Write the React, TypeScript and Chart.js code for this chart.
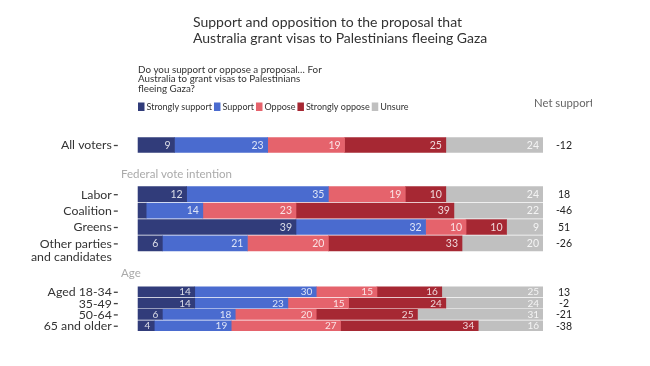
import React, { useEffect, useRef } from "react";
import { Chart, registerables } from "chart.js";

Chart.register(...registerables);

// ---- data ----
const ROW_LABELS = ["All voters", "Labor", "Coalition", "Greens", "Other parties", "Aged 18-34", "35-49", "50-64", "65 and older"];
const ROW_LABEL_EXTRA = ["", "", "", "", "and candidates", "", "", "", ""];
const ROW_POS = [0, 3, 4, 5, 6, 8.95, 9.64, 10.33, 11.02];
const ROW_GROUP = ["main", "main", "main", "main", "main", "age", "age", "age", "age"];

const SERIES = ["Strongly support", "Support", "Oppose", "Strongly oppose", "Unsure"];
const STRONGLY_SUPPORT = [9, 12, 2, 39, 6, 14, 14, 6, 4];
const SUPPORT = [23, 35, 14, 32, 21, 30, 23, 18, 19];
const OPPOSE = [19, 19, 23, 10, 20, 15, 15, 20, 27];
const STRONGLY_OPPOSE = [25, 10, 39, 10, 33, 16, 24, 25, 34];
const UNSURE = [24, 24, 22, 9, 20, 25, 24, 31, 16];
const NET_SUPPORT = [-12, 18, -46, 51, -26, 13, -2, -21, -38];

const SECTION_LABELS = ["Federal vote intention", "Age"];
const SECTION_POS = [1.77, 7.8];

const TITLE = ["Support and opposition to the proposal that", "Australia grant visas to Palestinians fleeing Gaza"];
const QUESTION = ["Do you support or oppose a proposal\u2026 For", "Australia to grant visas to Palestinians", "fleeing Gaza?"];
const NET_HEADER = "Net support";

const COLORS = ["#313c7a", "#4a6bcf", "#e5636c", "#a62833", "#c0c0c0"];
const FONT = "Lato, 'Open Sans', sans-serif";

const VALUES = [STRONGLY_SUPPORT, SUPPORT, OPPOSE, STRONGLY_OPPOSE, UNSURE];

function buildDatasets() {
  const ds: any[] = [];
  const groups = [
    { key: "main", thickness: 15 },
    { key: "age", thickness: 10 },
  ];
  groups.forEach((g) => {
    VALUES.forEach((vals, si) => {
      const data: any[] = [];
      vals.forEach((v, i) => {
        if (ROW_GROUP[i] === g.key) data.push({ x: v, y: ROW_POS[i] });
      });
      ds.push({
        label: SERIES[si],
        data,
        backgroundColor: COLORS[si],
        borderWidth: 0,
        barThickness: g.thickness,
        stack: "all",
        _group: g.key,
      });
    });
  });
  return ds;
}

const textPlugin = {
  id: "textPlugin",
  afterDatasetsDraw(chart: any) {
    const ctx = chart.ctx;
    ctx.save();
    ctx.textBaseline = "middle";
    // labels inside segments
    chart.data.datasets.forEach((d: any, di: number) => {
      const meta = chart.getDatasetMeta(di);
      meta.data.forEach((el: any, i: number) => {
        const v = d.data[i].x;
        const w = Math.abs(el.x - el.base);
        if (w < 12) return;
        ctx.font = `${d._group === "age" ? 10 : 10.5}px ${FONT}`;
        ctx.fillStyle = "rgba(255,255,255,0.82)";
        ctx.textAlign = "right";
        ctx.fillText(String(v), el.x - 4, el.y + 0.5);
      });
    });
    ctx.restore();
  },
  afterDraw(chart: any) {
    const ctx = chart.ctx;
    const y = chart.scales.y;
    const left = chart.chartArea.left;
    ctx.save();
    ctx.textBaseline = "middle";
    // title
    ctx.fillStyle = "#333";
    ctx.textAlign = "left";
    ctx.font = `14px ${FONT}`;
    ctx.fillText(TITLE[0], 193, 22);
    ctx.fillText(TITLE[1], 193, 38.5);
    // question
    ctx.font = `9.8px ${FONT}`;
    ctx.fillStyle = "#333";
    QUESTION.forEach((l, i) => ctx.fillText(l, 138, 70 + i * 9.2));
    // legend
    let lx = 138;
    ctx.font = `9px ${FONT}`;
    SERIES.forEach((s, i) => {
      ctx.fillStyle = COLORS[i];
      ctx.fillRect(lx, 102.5, 6.5, 8.5);
      lx += 8.5;
      ctx.fillStyle = "#333";
      ctx.fillText(s, lx, 107);
      lx += ctx.measureText(s).width + 2;
    });
    // net support header (clipped as in original)
    ctx.save();
    ctx.beginPath();
    ctx.rect(0, 0, 592, 366);
    ctx.clip();
    ctx.font = `11.3px ${FONT}`;
    ctx.fillStyle = "#666";
    ctx.fillText(NET_HEADER, 534, 103);
    ctx.restore();
    // net values
    ctx.font = `10.5px ${FONT}`;
    ctx.fillStyle = "#222";
    ctx.textAlign = "center";
    NET_SUPPORT.forEach((n, i) => {
      ctx.fillText(String(n), 564, y.getPixelForValue(ROW_POS[i]) + 0.5);
    });
    // section headers
    ctx.textAlign = "left";
    ctx.font = `11.5px ${FONT}`;
    ctx.fillStyle = "#aaa";
    SECTION_LABELS.forEach((s, i) => ctx.fillText(s, 121, y.getPixelForValue(SECTION_POS[i])));
    // category axis: labels + tick marks
    ctx.textAlign = "right";
    ctx.font = `12.3px ${FONT}`;
    ctx.fillStyle = "#333";
    ctx.strokeStyle = "#444";
    ctx.lineWidth = 1.3;
    ROW_LABELS.forEach((s, i) => {
      const py = y.getPixelForValue(ROW_POS[i]);
      ctx.fillText(s, left - 6, py + 0.5);
      if (ROW_LABEL_EXTRA[i]) ctx.fillText(ROW_LABEL_EXTRA[i], left - 6, py + 13.5);
      ctx.beginPath();
      ctx.moveTo(left - 4, py + 0.5);
      ctx.lineTo(left, py + 0.5);
      ctx.stroke();
    });
    ctx.restore();
  },
};

export default function App() {
  const ref = useRef<HTMLCanvasElement | null>(null);
  useEffect(() => {
    document.body.style.margin = "0";
    if (!ref.current) return;
    const chart = new Chart(ref.current, {
      type: "bar",
      data: { datasets: buildDatasets() },
      options: {
        indexAxis: "y",
        animation: false,
        responsive: false,
        events: [],
        layout: { padding: { top: 128.6, bottom: 24.2, left: 117.8, right: 107 } },
        plugins: { legend: { display: false }, tooltip: { enabled: false }, title: { display: false } },
        scales: {
          x: { type: "linear", min: -5, max: 100, stacked: true, display: false, offset: false },
          y: { type: "linear", reverse: true, min: -1, max: 12, stacked: true, display: false, offset: false },
        },
      },
      plugins: [textPlugin],
    } as any);
    return () => chart.destroy();
  }, []);
  return (
    <div style={{ position: "absolute", left: 0, top: 0, width: 650, height: 366, background: "#fff" }}>
      <canvas ref={ref} width={650} height={366} />
    </div>
  );
}
